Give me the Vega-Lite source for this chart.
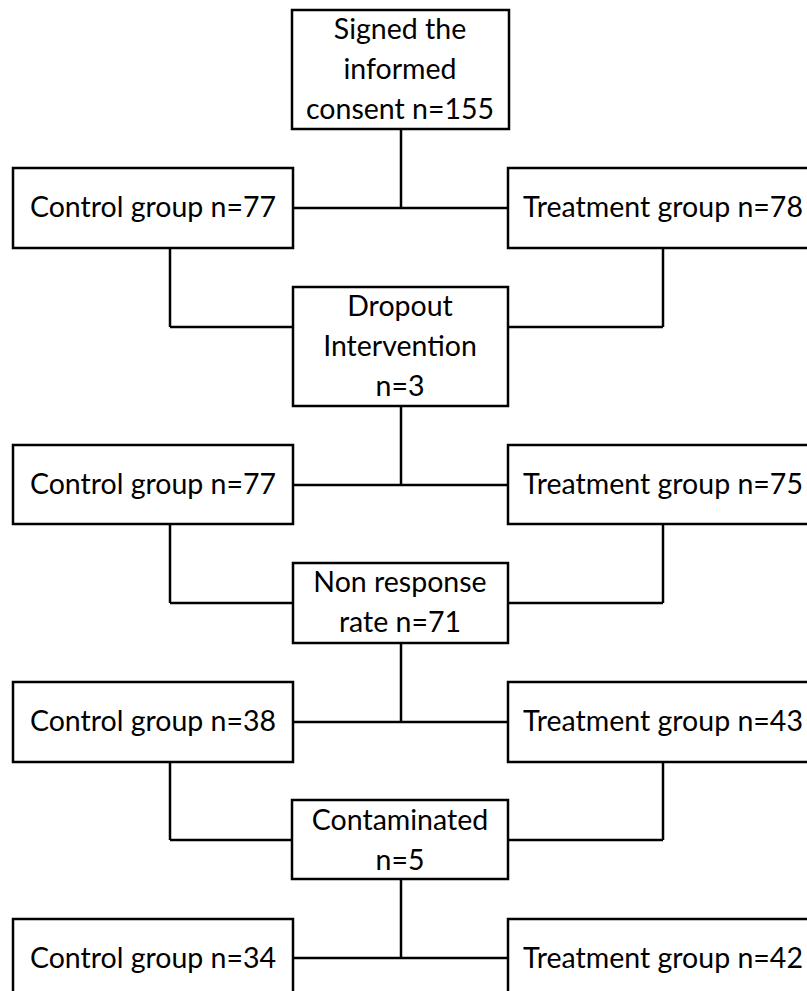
{
  "$schema": "https://vega.github.io/schema/vega-lite/v6.json",
  "width": 807,
  "height": 991,
  "autosize": "none",
  "padding": 0,
  "background": "white",
  "config": {"view": {"stroke": null}},
  "datasets": {
    "boxes": [
      {"x1": 292, "x2": 509, "y1": 10, "y2": 129},
      {"x1": 13, "x2": 293, "y1": 168, "y2": 248},
      {"x1": 508, "x2": 830, "y1": 168, "y2": 248},
      {"x1": 293, "x2": 508, "y1": 287, "y2": 406},
      {"x1": 13, "x2": 293, "y1": 445, "y2": 524},
      {"x1": 508, "x2": 830, "y1": 445, "y2": 524},
      {"x1": 293, "x2": 508, "y1": 563, "y2": 643},
      {"x1": 13, "x2": 293, "y1": 682, "y2": 762},
      {"x1": 508, "x2": 830, "y1": 682, "y2": 762},
      {"x1": 292, "x2": 508, "y1": 800, "y2": 879},
      {"x1": 13, "x2": 293, "y1": 919, "y2": 1000},
      {"x1": 508, "x2": 830, "y1": 919, "y2": 1000}
    ],
    "lines": [
      {"x1": 401, "y1": 129, "x2": 401, "y2": 208},
      {"x1": 293, "y1": 208, "x2": 508, "y2": 208},
      {"x1": 170, "y1": 248, "x2": 170, "y2": 327},
      {"x1": 170, "y1": 327, "x2": 293, "y2": 327},
      {"x1": 663, "y1": 248, "x2": 663, "y2": 327},
      {"x1": 508, "y1": 327, "x2": 663, "y2": 327},
      {"x1": 401, "y1": 406, "x2": 401, "y2": 485},
      {"x1": 293, "y1": 485, "x2": 508, "y2": 485},
      {"x1": 170, "y1": 524, "x2": 170, "y2": 603},
      {"x1": 170, "y1": 603, "x2": 293, "y2": 603},
      {"x1": 663, "y1": 524, "x2": 663, "y2": 603},
      {"x1": 508, "y1": 603, "x2": 663, "y2": 603},
      {"x1": 401, "y1": 643, "x2": 401, "y2": 722},
      {"x1": 293, "y1": 722, "x2": 508, "y2": 722},
      {"x1": 170, "y1": 762, "x2": 170, "y2": 840},
      {"x1": 170, "y1": 840, "x2": 292, "y2": 840},
      {"x1": 663, "y1": 762, "x2": 663, "y2": 840},
      {"x1": 508, "y1": 840, "x2": 663, "y2": 840},
      {"x1": 401, "y1": 879, "x2": 401, "y2": 958},
      {"x1": 293, "y1": 958, "x2": 508, "y2": 958}
    ],
    "labels": [
      {"x": 400, "y": 30, "label": "Signed the\ninformed\nconsent n=155"},
      {"x": 153, "y": 208, "label": "Control group n=77"},
      {"x": 663, "y": 208, "label": "Treatment group n=78"},
      {"x": 400, "y": 307, "label": "Dropout\nIntervention\nn=3"},
      {"x": 153, "y": 485, "label": "Control group n=77"},
      {"x": 663, "y": 485, "label": "Treatment group n=75"},
      {"x": 400, "y": 583, "label": "Non response\nrate n=71"},
      {"x": 153, "y": 722, "label": "Control group n=38"},
      {"x": 663, "y": 722, "label": "Treatment group n=43"},
      {"x": 400, "y": 821, "label": "Contaminated\nn=5"},
      {"x": 153, "y": 959, "label": "Control group n=34"},
      {"x": 663, "y": 959, "label": "Treatment group n=42"}
    ]
  },
  "layer": [
    {
      "data": {"name": "lines"},
      "mark": {"type": "rule", "color": "black", "strokeWidth": 2.5},
      "encoding": {
        "x": {"field": "x1", "type": "quantitative", "scale": {"domain": [0, 807], "nice": false, "zero": false}, "axis": null},
        "x2": {"field": "x2"},
        "y": {"field": "y1", "type": "quantitative", "scale": {"domain": [0, 991], "nice": false, "zero": false, "reverse": true}, "axis": null},
        "y2": {"field": "y2"}
      }
    },
    {
      "data": {"name": "boxes"},
      "mark": {"type": "rect", "fill": "white", "stroke": "black", "strokeWidth": 2.5},
      "encoding": {
        "x": {"field": "x1", "type": "quantitative", "scale": {"domain": [0, 807], "nice": false, "zero": false}, "axis": null},
        "x2": {"field": "x2"},
        "y": {"field": "y1", "type": "quantitative", "scale": {"domain": [0, 991], "nice": false, "zero": false, "reverse": true}, "axis": null},
        "y2": {"field": "y2"}
      }
    },
    {
      "data": {"name": "labels"},
      "mark": {"type": "text", "font": "Lato", "fontSize": 28.5, "color": "black", "align": "center", "baseline": "middle", "lineBreak": "\n", "lineHeight": 40},
      "encoding": {
        "x": {"field": "x", "type": "quantitative", "scale": {"domain": [0, 807], "nice": false, "zero": false}, "axis": null},
        "y": {"field": "y", "type": "quantitative", "scale": {"domain": [0, 991], "nice": false, "zero": false, "reverse": true}, "axis": null},
        "text": {"field": "label"}
      }
    }
  ]
}
